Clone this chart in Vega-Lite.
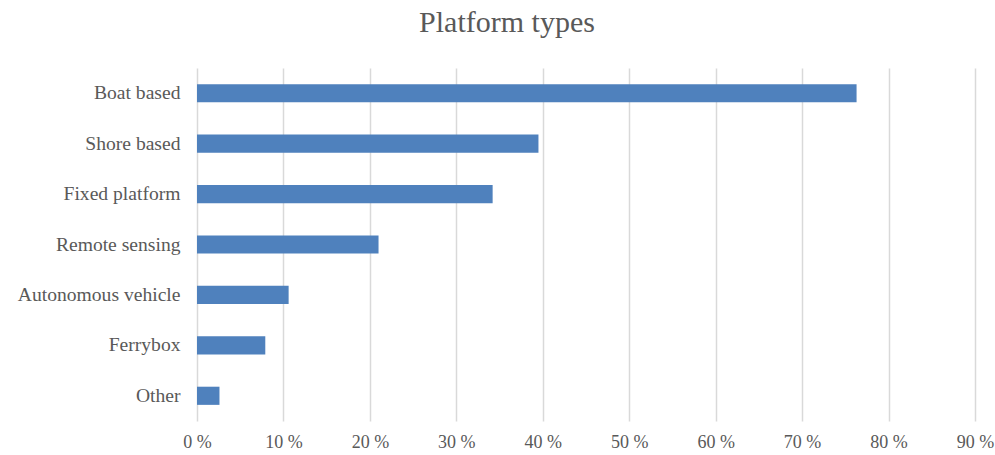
{
  "$schema": "https://vega.github.io/schema/vega-lite/v6.json",
  "width": 778,
  "height": 353,
  "autosize": {"type": "none"},
  "padding": {"left": 197, "top": 68, "right": 20, "bottom": 34},
  "background": "white",
  "title": {
    "text": "Platform types",
    "font": "Liberation Serif",
    "fontSize": 30,
    "fontWeight": "normal",
    "color": "#595959",
    "anchor": "middle",
    "dx": -79,
    "offset": 30
  },
  "data": {
    "values": [
      {"type": "Boat based", "pct": 76.3},
      {"type": "Shore based", "pct": 39.5},
      {"type": "Fixed platform", "pct": 34.2},
      {"type": "Remote sensing", "pct": 21.0},
      {"type": "Autonomous vehicle", "pct": 10.6},
      {"type": "Ferrybox", "pct": 7.9},
      {"type": "Other", "pct": 2.6}
    ]
  },
  "config": {"view": {"stroke": null}},
  "mark": {"type": "bar", "color": "#4f81bd"},
  "encoding": {
    "y": {
      "field": "type",
      "type": "nominal",
      "sort": null,
      "scale": {"paddingInner": 0.64, "paddingOuter": 0.32},
      "axis": {
        "title": null,
        "domain": false,
        "ticks": false,
        "labelFont": "Liberation Serif",
        "labelFontSize": 19.6,
        "labelColor": "#595959",
        "labelPadding": 17,
        "labelLimit": 300
      }
    },
    "x": {
      "field": "pct",
      "type": "quantitative",
      "scale": {"domain": [0, 90], "nice": false},
      "axis": {
        "title": null,
        "values": [0, 10, 20, 30, 40, 50, 60, 70, 80, 90],
        "labelExpr": "datum.value + ' %'",
        "domain": false,
        "ticks": false,
        "grid": true,
        "gridColor": "#d9d9d9",
        "gridWidth": 1.5,
        "labelFont": "Liberation Serif",
        "labelFontSize": 18,
        "labelColor": "#595959",
        "labelPadding": 12,
        "labelFlush": false
      }
    }
  }
}
